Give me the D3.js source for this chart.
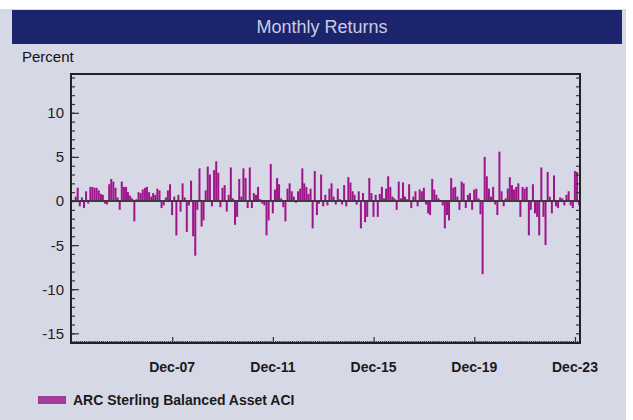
<!DOCTYPE html>
<html>
<head>
<meta charset="utf-8">
<script src="https://cdn.jsdelivr.net/npm/d3@7"></script>
<style>
  body { margin: 0; background: #ffffff; }
  svg { display: block; }
  .tickLabel { font-family: "Liberation Sans", Arial, sans-serif; }
</style>
</head>
<body>
<script>
// Monthly returns chart, ARC Sterling Balanced Asset index

// ----- Data (percent, monthly, Jan 2004 onwards) -----
var ret2004 = [0.5, 1.5, -0.6, 0.4, -0.8, 1.1, -0.3, 1.6, 1.6, 1.5, 1.5, 1.2];
var ret2005 = [0.8, 0.7, -0.3, -0.4, 1.9, 2.5, 2.2, 1.5, 0.4, -1.0, 2.2, 1.6];
var ret2006 = [1.6, 1.0, 0.6, 0.3, -2.3, 0.2, 1.0, 0.9, 1.3, 1.5, 1.6, 1.0];
var ret2007 = [0.5, 0.9, 0.7, 1.4, 1.2, -0.8, -0.5, 0.4, 1.2, 1.9, -1.6, 0.5];
var ret2008 = [-3.9, 0.7, -1.2, 2.0, 0.4, -3.5, -0.5, 2.3, -4.0, -6.2, -1.0, 3.7];
var ret2009 = [-2.9, -2.2, 1.2, 3.9, 3.0, -0.6, 3.5, 4.5, 3.2, -0.7, 1.5, 1.8];
var ret2010 = [-1.2, 0.7, 3.8, 0.3, -2.7, -1.8, 2.5, 0.5, 3.7, 2.6, -0.8, 3.8];
var ret2011 = [-0.8, 0.9, 0.7, 1.6, 0.2, -0.3, -0.5, -3.9, -2.2, 4.2, -1.4, 1.3];
var ret2012 = [2.6, 1.9, 0.3, -0.7, -2.3, 1.4, 2.0, 1.1, 0.5, -0.2, 1.1, 1.4];
var ret2013 = [3.7, 2.0, 1.6, 0.8, 1.4, -3.1, 3.4, -1.6, -0.3, 3.0, -0.6, 0.7];
var ret2014 = [-0.5, 1.4, 2.0, 0.5, -0.4, 1.4, 0.2, -0.4, 1.8, -0.6, 2.7, 2.1];
var ret2015 = [1.1, 0.7, -0.4, 1.1, -3.1, 0.9, -2.4, -1.8, 2.6, 0.9, -1.8, 0.7];
var ret2016 = [-1.8, 0.8, 1.6, 0.3, 1.4, 2.8, 1.6, 0.5, 0.3, -1.0, 2.2, 0.3];
var ret2017 = [2.1, 0.5, 0.2, 1.9, -0.8, 0.5, 1.1, -0.6, 1.3, 1.1, 1.5, -0.4];
var ret2018 = [-1.4, -1.6, 2.5, 1.3, 0.7, 0.3, 0.1, -0.5, -3.1, -1.6, -2.2, 2.6];
var ret2019 = [1.5, 1.6, 0.5, -1.0, 2.2, 2.0, -0.8, 0.7, 0.9, -1.0, 1.3, 1.4];
var ret2020 = [0.3, -1.5, -8.3, 5.0, 2.8, 1.4, 0.5, 1.6, -0.4, -1.6, 5.6, 1.1];
var ret2021 = [-0.6, 0.3, 1.4, 2.7, 1.8, 1.3, 1.6, 2.0, -1.8, 1.6, 1.4, 1.6];
var ret2022 = [-3.9, -1.0, 1.9, -1.4, -1.8, -3.9, 3.8, -1.8, -5.0, 3.3, 0.5, -1.4];
var ret2023 = [2.9, -0.6, -0.8, 0.4, 0.3, -0.5, 0.7, 1.1, -0.5, -0.8, 3.4, 3.3];
var ret2024 = [-0.5];

var firstYear = 2004;
var yearlyReturns = [ret2004, ret2005, ret2006, ret2007, ret2008, ret2009, ret2010,
  ret2011, ret2012, ret2013, ret2014, ret2015, ret2016, ret2017, ret2018, ret2019,
  ret2020, ret2021, ret2022, ret2023, ret2024];

var xTickLabels = ["Dec-07", "Dec-11", "Dec-15", "Dec-19", "Dec-23"];
var yTickValues = [-15, -10, -5, 0, 5, 10];
var seriesName = "ARC Sterling Balanced Asset ACI";
var chartTitle = "Monthly Returns";

// ----- Page dimensions -----
var W = 633, H = 420;
var plot = { left: 71, top: 74, right: 580, bottom: 343 };

var barColour = "#9e1589";
var bgColour = "#d7d8e6";
var bandColour = "#1c246e";

// Flatten to month-end points
var data = [];
yearlyReturns.forEach(function(arr, yi) {
  arr.forEach(function(v, m) {
    data.push({ date: new Date(firstYear + yi, m + 1, 0), value: v });
  });
});

var parseTick = d3.timeParse("%b-%y");
var tickDates = xTickLabels.map(function(s) { return parseTick(s); });

// Scales
var x = d3.scaleTime()
  .domain([new Date(2003, 10, 24), new Date(2024, 1, 12)])
  .range([plot.left, plot.right]);

var y = d3.scaleLinear()
  .domain([-16.1, 14.4])
  .range([plot.bottom, plot.top]);

var svg = d3.select("body")
  .append("svg")
  .attr("width", W)
  .attr("height", H);

// Backgrounds
svg.append("rect")
  .attr("x", 0).attr("y", 9)
  .attr("width", 626).attr("height", H - 9)
  .attr("fill", bgColour);

svg.append("rect")
  .attr("x", 12).attr("y", 10)
  .attr("width", 610).attr("height", 34)
  .attr("fill", bandColour);

svg.append("text")
  .attr("x", 322)
  .attr("y", 33)
  .attr("text-anchor", "middle")
  .style("font-family", "Liberation Sans, Arial, sans-serif")
  .style("font-size", "18px")
  .attr("fill", "#c9cde3")
  .text(chartTitle);

svg.append("text")
  .attr("x", 22)
  .attr("y", 62)
  .style("font-family", "Liberation Sans, Arial, sans-serif")
  .style("font-size", "15px")
  .attr("fill", "#111")
  .text("Percent");

// Bars
var barW = 2;
svg.append("g")
  .selectAll("rect")
  .data(data)
  .enter().append("rect")
  .attr("x", function(d) { return x(d.date) - barW / 2; })
  .attr("y", function(d) { return y(Math.max(0, d.value)); })
  .attr("width", barW)
  .attr("height", function(d) { return Math.abs(y(d.value) - y(0)); })
  .attr("fill", barColour);

// Zero line
svg.append("line")
  .attr("x1", plot.left).attr("x2", plot.right)
  .attr("y1", y(0)).attr("y2", y(0))
  .attr("stroke", "#3c3c3c")
  .attr("stroke-width", 2);

// Y axes, ticks pointing inward on both sides
var yMinor = d3.range(-16, 15, 1);
var leftAxis = d3.axisRight(y)
  .tickValues(yMinor)
  .tickSize(4)
  .tickFormat("");
svg.append("g")
  .attr("transform", "translate(" + plot.left + ",0)")
  .call(leftAxis)
  .call(function(g) { g.select(".domain").remove(); });

var leftMajor = d3.axisRight(y)
  .tickValues(yTickValues)
  .tickSize(8)
  .tickFormat("");
svg.append("g")
  .attr("transform", "translate(" + plot.left + ",0)")
  .call(leftMajor)
  .call(function(g) { g.select(".domain").remove(); });

var rightAxis = d3.axisLeft(y)
  .tickValues(yMinor)
  .tickSize(4)
  .tickFormat("");
svg.append("g")
  .attr("transform", "translate(" + plot.right + ",0)")
  .call(rightAxis)
  .call(function(g) { g.select(".domain").remove(); });

svg.selectAll(".tick line").attr("stroke", "#333").attr("stroke-width", 1.3);

// Y tick labels
svg.append("g")
  .selectAll("text")
  .data(yTickValues)
  .enter().append("text")
  .attr("class", "tickLabel")
  .attr("x", plot.left - 7)
  .attr("y", function(d) { return y(d); })
  .attr("dy", "0.36em")
  .attr("text-anchor", "end")
  .style("font-size", "15px")
  .attr("fill", "#222")
  .text(function(d) { return d; });

// X axis ticks (monthly small, labelled ones taller)
var monthTicks = x.ticks(d3.timeMonth.every(1));
var bottomMinor = d3.axisTop(x)
  .tickValues(monthTicks)
  .tickSize(2)
  .tickFormat("");
svg.append("g")
  .attr("transform", "translate(0," + plot.bottom + ")")
  .call(bottomMinor)
  .call(function(g) { g.select(".domain").remove(); });

var bottomMajor = d3.axisTop(x)
  .tickValues(tickDates)
  .tickSize(6)
  .tickFormat("");
svg.append("g")
  .attr("transform", "translate(0," + plot.bottom + ")")
  .call(bottomMajor)
  .call(function(g) { g.select(".domain").remove(); });

svg.selectAll(".tick line").attr("stroke", "#333").attr("stroke-width", 1.2);

// X tick labels
svg.append("g")
  .selectAll("text")
  .data(tickDates)
  .enter().append("text")
  .attr("class", "tickLabel")
  .attr("x", function(d) { return x(d); })
  .attr("y", 372)
  .attr("text-anchor", "middle")
  .style("font-size", "14px")
  .style("font-weight", "bold")
  .attr("fill", "#1a1a1a")
  .text(function(d, i) { return xTickLabels[i]; });

// Plot frame
svg.append("rect")
  .attr("x", plot.left).attr("y", plot.top)
  .attr("width", plot.right - plot.left)
  .attr("height", plot.bottom - plot.top)
  .attr("fill", "none")
  .attr("stroke", "#222")
  .attr("stroke-width", 2);

// Legend
svg.append("rect")
  .attr("x", 38).attr("y", 396)
  .attr("width", 28).attr("height", 8)
  .attr("fill", "#a23c98");

svg.append("text")
  .attr("class", "tickLabel")
  .attr("x", 73)
  .attr("y", 405)
  .style("font-size", "14px")
  .style("font-weight", "bold")
  .attr("fill", "#1a1a1a")
  .text(seriesName);
</script>
</body>
</html>
